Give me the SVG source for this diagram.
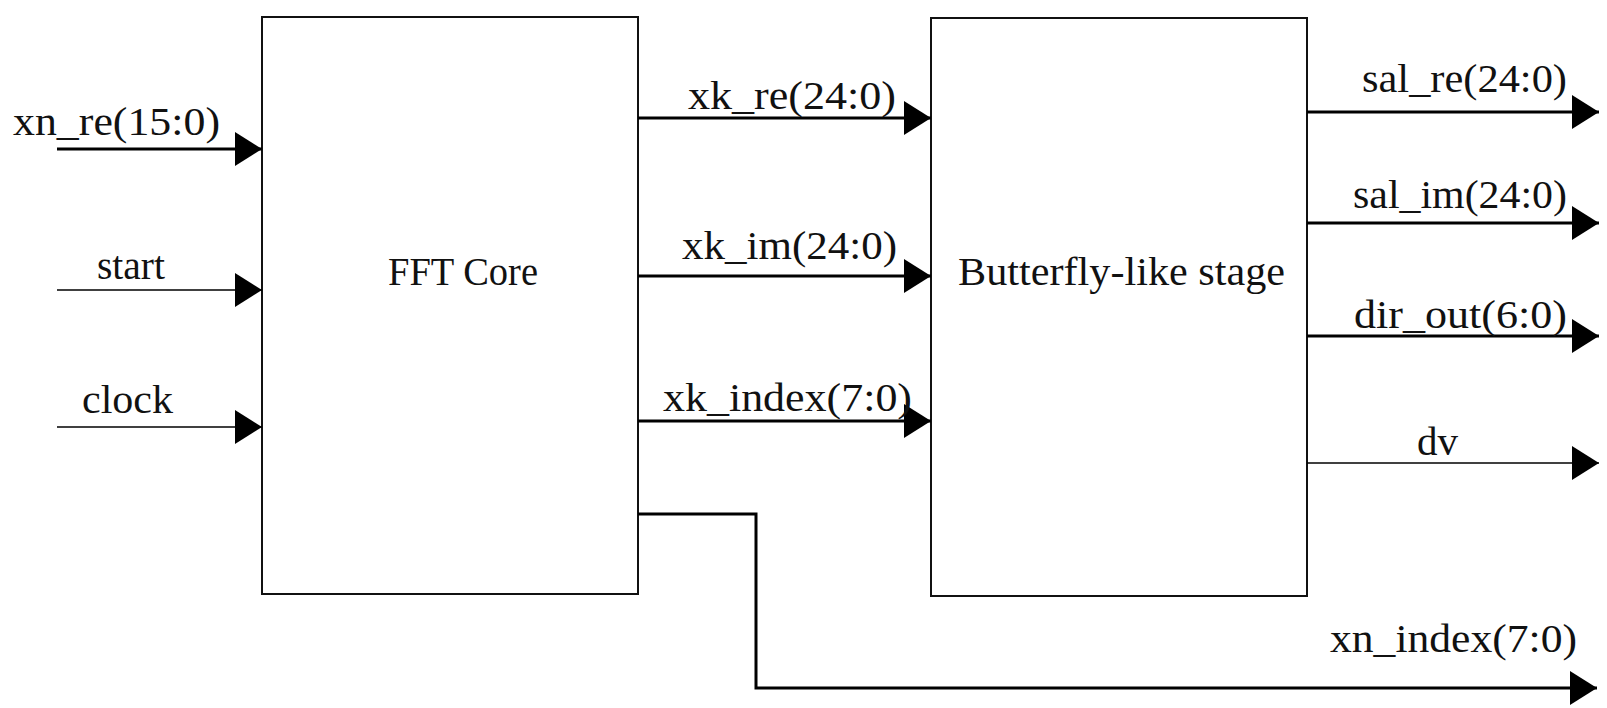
<svg xmlns="http://www.w3.org/2000/svg" width="1607" height="708" viewBox="0 0 1607 708">
<style>
.box{fill:#fff;stroke:#111;stroke-width:2}
.bus{fill:none;stroke:#000;stroke-width:3;marker-end:url(#ah)}
.sig{fill:none;stroke:#000;stroke-width:1.6;marker-end:url(#ah)}
text{font-family:"Liberation Serif","Times New Roman",serif;font-size:39px;fill:#111}
</style>
<defs>
<marker id="ah" markerUnits="userSpaceOnUse" markerWidth="28" markerHeight="36" refX="27" refY="17" orient="auto" viewBox="0 0 28 36">
<path d="M0,0 L27,17 L0,34 Z" fill="#000"/>
</marker>
</defs>
<rect width="1607" height="708" fill="#fff"/>
<g id="fft-core">
<rect class="box" x="262" y="17" width="376" height="577"/>
<text x="388" y="285" textLength="150" lengthAdjust="spacingAndGlyphs">FFT Core</text>
</g>
<g id="butterfly-stage">
<rect class="box" x="931" y="18" width="376" height="578"/>
<text x="958" y="285" textLength="327" lengthAdjust="spacingAndGlyphs">Butterfly-like stage</text>
</g>
<g id="connectors">
<path class="bus" d="M57,149 H262"/>
<path class="sig" d="M57,290 H262"/>
<path class="sig" d="M57,427 H262"/>
<path class="bus" d="M638,118 H931"/>
<path class="bus" d="M638,276 H931"/>
<path class="bus" d="M638,421 H931"/>
<path class="bus" d="M638,514 H756 V688 H1597"/>
<path class="bus" d="M1307,112 H1599"/>
<path class="bus" d="M1307,223 H1599"/>
<path class="bus" d="M1307,336 H1599"/>
<path class="sig" d="M1307,463 H1599"/>
</g>
<g id="labels">
<text x="13" y="135" textLength="207" lengthAdjust="spacingAndGlyphs">xn_re(15:0)</text>
<text x="97" y="279" textLength="68" lengthAdjust="spacingAndGlyphs">start</text>
<text x="82" y="413" textLength="91" lengthAdjust="spacingAndGlyphs">clock</text>
<text x="688" y="109" textLength="208" lengthAdjust="spacingAndGlyphs">xk_re(24:0)</text>
<text x="682" y="259" textLength="215" lengthAdjust="spacingAndGlyphs">xk_im(24:0)</text>
<text x="663" y="411" textLength="249" lengthAdjust="spacingAndGlyphs">xk_index(7:0)</text>
<text x="1362" y="92" textLength="205" lengthAdjust="spacingAndGlyphs">sal_re(24:0)</text>
<text x="1353" y="208" textLength="214" lengthAdjust="spacingAndGlyphs">sal_im(24:0)</text>
<text x="1354" y="328" textLength="213" lengthAdjust="spacingAndGlyphs">dir_out(6:0)</text>
<text x="1417" y="455" textLength="41" lengthAdjust="spacingAndGlyphs">dv</text>
<text x="1330" y="652" textLength="247" lengthAdjust="spacingAndGlyphs">xn_index(7:0)</text>
</g>
</svg>
